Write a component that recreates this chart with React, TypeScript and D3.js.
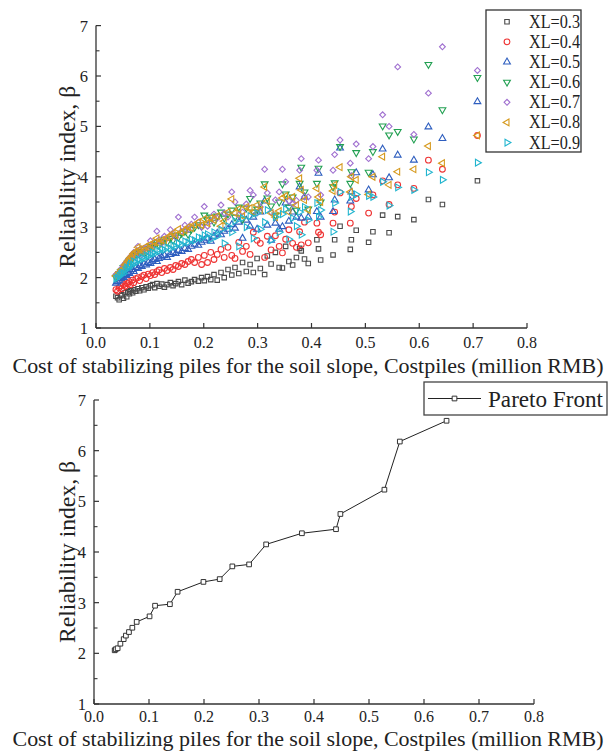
import React from "react";
import * as d3 from "d3";

// cost of piles (million RMB) for each design, shared by every XL series
const costs = [
  0.037, 0.040, 0.043, 0.046, 0.048, 0.051, 0.054, 0.057, 0.059, 0.062,
  0.064, 0.068, 0.070, 0.074, 0.078, 0.081, 0.085, 0.089, 0.093, 0.097,
  0.101, 0.105, 0.109, 0.113, 0.117, 0.122, 0.127, 0.132, 0.138, 0.143,
  0.148, 0.153, 0.159, 0.165, 0.171, 0.177, 0.183, 0.190, 0.196, 0.201,
  0.207, 0.213, 0.219, 0.225, 0.232, 0.238, 0.245, 0.252, 0.258, 0.265,
  0.272, 0.279, 0.286, 0.292, 0.299, 0.305, 0.313, 0.318, 0.325, 0.333,
  0.340, 0.346, 0.352, 0.358, 0.365, 0.372, 0.378, 0.381, 0.387, 0.394,
  0.410, 0.413, 0.417, 0.440, 0.443, 0.453, 0.472, 0.474, 0.483, 0.506,
  0.514, 0.532, 0.544, 0.560, 0.590, 0.617, 0.643, 0.708,
];

const betaXL03 = [
  1.63, 1.60, 1.56, 1.64, 1.66, 1.59, 1.70, 1.62, 1.72, 1.68,
  1.74, 1.70, 1.76, 1.73, 1.78, 1.74, 1.80, 1.76, 1.82, 1.79,
  1.84, 1.86, 1.80, 1.88, 1.83, 1.87, 1.81, 1.86, 1.90, 1.84,
  1.88, 1.92, 1.86, 1.95, 1.89, 1.92, 1.96, 1.93, 2.00, 1.94,
  2.02, 1.96, 2.06, 1.95, 2.10, 2.00, 2.16, 2.05, 2.20, 2.08,
  2.30, 2.12, 2.26, 2.10, 2.38, 2.18, 2.06, 2.43, 2.27, 2.50,
  2.20, 2.19, 2.62, 2.32, 2.25, 2.40, 2.58, 2.53, 2.37, 2.28,
  2.75, 2.57, 2.35, 2.45, 2.75, 3.02, 2.56, 2.75, 2.94, 2.70,
  2.91, 3.24, 2.89, 3.21, 3.15, 3.55, 3.45, 3.92,
];

const betaXL04 = [
  1.76, 1.73, 1.80, 1.84, 1.78, 1.86, 1.83, 1.90, 1.88, 1.92,
  1.86, 1.95, 1.90, 1.98, 2.00, 1.94, 2.02, 2.05, 1.98, 2.07,
  2.04, 2.10, 2.06, 2.12, 2.15, 2.10, 2.18, 2.14, 2.20, 2.16,
  2.24, 2.22, 2.28, 2.26, 2.32, 2.36, 2.30, 2.40, 2.26, 2.44,
  2.30, 2.50, 2.36, 2.46, 2.56, 2.40, 2.60, 2.44, 2.38, 2.70,
  2.52, 2.62, 2.46, 2.90, 2.74, 2.68, 2.40, 2.82, 2.55, 2.83,
  2.62, 2.49, 2.76, 2.95, 2.68, 2.60, 2.91, 2.65, 3.10, 2.69,
  3.08, 2.90, 2.85, 3.08, 3.30, 3.68, 3.08, 3.41, 3.57, 3.28,
  3.64, 3.92, 3.45, 3.84, 3.77, 4.33, 4.15, 4.82,
];

const betaXL05 = [
  1.89, 1.92, 1.95, 1.98, 2.02, 2.00, 2.06, 2.04, 2.10, 2.08,
  2.13, 2.16, 2.12, 2.20, 2.18, 2.24, 2.22, 2.27, 2.25, 2.30,
  2.28, 2.33, 2.36, 2.32, 2.38, 2.41, 2.44, 2.40, 2.46, 2.50,
  2.48, 2.54, 2.52, 2.58, 2.56, 2.62, 2.66, 2.64, 2.70, 2.74,
  2.78, 2.72, 2.82, 2.88, 2.85, 2.92, 2.96, 3.05, 2.98, 3.10,
  2.78, 3.14, 3.02, 3.20, 2.96, 3.30, 3.52, 3.04, 2.74, 3.08,
  2.96, 3.01, 3.48, 3.12, 3.30, 3.20, 3.80, 3.18, 3.60, 3.20,
  3.31, 4.07, 3.20, 3.31, 3.54, 4.57, 3.52, 3.70, 4.08, 3.74,
  4.04, 4.55, 3.98, 4.43, 4.33, 4.99, 4.76, 5.49,
];

const betaXL06 = [
  2.00, 2.03, 2.08, 2.12, 2.14, 2.20, 2.22, 2.26, 2.30, 2.34,
  2.32, 2.40, 2.44, 2.46, 2.50, 2.48, 2.52, 2.56, 2.50, 2.58,
  2.62, 2.60, 2.66, 2.70, 2.64, 2.72, 2.76, 2.70, 2.78, 2.74,
  2.84, 2.80, 2.88, 2.92, 2.86, 2.96, 3.00, 3.05, 3.02, 3.24,
  3.15, 3.20, 3.10, 3.22, 3.30, 3.18, 3.26, 3.34, 3.20, 3.40,
  3.16, 3.38, 3.57, 3.30, 3.36, 3.48, 3.86, 3.58, 3.42, 3.24,
  3.50, 3.86, 3.66, 3.40, 3.60, 3.34, 3.87, 4.19, 3.70, 3.36,
  3.87, 4.17, 3.50, 3.80, 3.88, 4.60, 3.87, 4.10, 4.48, 4.09,
  4.50, 5.01, 4.83, 4.90, 4.75, 6.23, 5.33, 5.97,
];

const betaXL07 = [
  2.06, 2.08, 2.10, 2.15, 2.19, 2.24, 2.28, 2.30, 2.35, 2.38,
  2.42, 2.46, 2.50, 2.42, 2.62, 2.55, 2.45, 2.58, 2.60, 2.52,
  2.73, 2.64, 2.70, 2.92, 2.75, 2.68, 2.82, 2.78, 2.95, 2.86,
  2.80, 3.20, 2.92, 3.04, 2.96, 3.06, 3.20, 3.10, 3.00, 3.41,
  3.02, 3.12, 3.26, 3.18, 3.44, 3.28, 3.20, 3.70, 3.50, 3.24,
  3.30, 3.46, 3.73, 3.64, 3.28, 3.40, 4.15, 3.68, 3.30, 3.54,
  3.70, 4.15, 3.90, 3.52, 3.46, 3.53, 4.13, 4.36, 3.60, 3.60,
  4.13, 4.33, 3.64, 4.13, 4.44, 4.73, 4.27, 4.02, 4.65, 4.36,
  4.60, 5.23, 5.00, 6.18, 4.84, 5.66, 6.58, 6.11,
];

const betaXL08 = [
  2.03, 2.05, 2.10, 2.12, 2.16, 2.18, 2.25, 2.28, 2.32, 2.36,
  2.40, 2.44, 2.48, 2.52, 2.60, 2.56, 2.50, 2.54, 2.62, 2.58,
  2.66, 2.62, 2.70, 2.78, 2.68, 2.74, 2.72, 2.80, 2.82, 2.88,
  2.84, 2.96, 2.90, 2.94, 3.00, 2.98, 3.05, 3.10, 3.04, 3.16,
  3.08, 3.18, 3.14, 3.22, 3.02, 3.12, 3.30, 3.56, 3.28, 3.36,
  3.22, 3.40, 3.38, 3.30, 3.44, 3.34, 3.80, 3.52, 3.28, 3.20,
  3.32, 3.58, 3.62, 3.30, 3.60, 3.44, 3.97, 3.74, 3.54, 3.34,
  3.77, 3.60, 3.50, 3.72, 3.84, 4.19, 3.70, 4.00, 3.94, 3.65,
  4.00, 4.40, 3.84, 4.10, 4.15, 4.61, 4.27, 4.82,
];

const betaXL09 = [
  1.98, 2.00, 2.04, 2.07, 2.10, 2.08, 2.15, 2.20, 2.18, 2.24,
  2.28, 2.25, 2.32, 2.30, 2.36, 2.34, 2.40, 2.38, 2.44, 2.42,
  2.46, 2.50, 2.48, 2.54, 2.52, 2.57, 2.55, 2.60, 2.58, 2.64,
  2.62, 2.68, 2.66, 2.72, 2.70, 2.76, 2.74, 2.80, 2.78, 2.84,
  2.86, 2.76, 2.90, 2.82, 2.95, 2.68, 3.02, 2.90, 3.12, 2.62,
  3.18, 3.00, 3.22, 2.78, 3.28, 2.96, 3.10, 3.34, 2.74, 3.20,
  2.90, 3.26, 3.36, 2.76, 3.18, 3.02, 3.30, 2.85, 3.40, 3.14,
  3.48, 3.20, 3.34, 2.91, 3.48, 3.70, 3.31, 3.60, 3.65, 3.62,
  3.60, 3.90, 3.43, 3.79, 3.74, 4.09, 3.94, 4.28,
];

const seriesLabels = ["XL=0.3", "XL=0.4", "XL=0.5", "XL=0.6", "XL=0.7", "XL=0.8", "XL=0.9"];

const paretoCost = [
  0.0376, 0.0395, 0.043, 0.048, 0.054, 0.058, 0.0636, 0.0697, 0.0776, 0.101,
  0.111, 0.138, 0.152, 0.199, 0.2285, 0.2515, 0.282, 0.313, 0.378, 0.44,
  0.448, 0.528, 0.556, 0.641,
];
const paretoBeta = [
  2.06, 2.08, 2.10, 2.19, 2.28, 2.35, 2.42, 2.505, 2.62, 2.73,
  2.94, 2.97, 3.215, 3.41, 3.465, 3.716, 3.755, 4.15, 4.37, 4.45,
  4.75, 5.23, 6.18, 6.59,
];

const xTicks = [0, 0.1, 0.2, 0.3, 0.4, 0.5, 0.6, 0.7, 0.8];
const yTicks = [1, 2, 3, 4, 5, 6, 7];
const yMinorTicks = [1.5, 2.5, 3.5, 4.5, 5.5, 6.5];

const FONT = "'Liberation Serif', 'Times New Roman', serif";
const AXIS = "#333";
const xTitle = "Cost of stabilizing piles for the soil slope, Costpiles (million RMB)";
const yTitle = "Reliability index, β";

const colors = ["#4a4a4a", "#ee3333", "#2e5ebf", "#22a052", "#a070d0", "#d69a1e", "#22b5cf"];
const markers = [
  { type: d3.symbolSquare, size: 20, rotate: 0 },
  { type: d3.symbolCircle, size: 26, rotate: 0 },
  { type: d3.symbolTriangle, size: 20, rotate: 0 },
  { type: d3.symbolTriangle, size: 20, rotate: 180 },
  { type: d3.symbolSquare, size: 17, rotate: 45 },
  { type: d3.symbolTriangle, size: 20, rotate: -90 },
  { type: d3.symbolTriangle, size: 20, rotate: 90 },
];

const seriesBeta = [betaXL03, betaXL04, betaXL05, betaXL06, betaXL07, betaXL08, betaXL09];
const fmt = d3.format(".1f");

const Axes = ({ x, y, xTitleY, tickDy }) => {
  const [x0, x1] = x.range();
  const [yb, yt] = y.range();
  const cy = (yb + yt) / 2;
  return (
    <g fontFamily={FONT} fill="#222">
      <line x1={x0} x2={x1} y1={yb} y2={yb} stroke={AXIS} strokeWidth={1.3} />
      <line x1={x0} x2={x0} y1={yb} y2={yt} stroke={AXIS} strokeWidth={1.3} />
      {xTicks.map((t) => (
        <g key={`x${t}`}>
          <line x1={x(t)} x2={x(t)} y1={yb} y2={yb - 5} stroke={AXIS} strokeWidth={1.2} />
          <text x={x(t)} y={yb + tickDy} fontSize={16} textAnchor="middle">{fmt(t)}</text>
        </g>
      ))}
      {yTicks.map((t) => (
        <g key={`y${t}`}>
          <line x1={x0} x2={x0 + 5} y1={y(t)} y2={y(t)} stroke={AXIS} strokeWidth={1.2} />
          <text x={x0 - 8} y={y(t) + 6} fontSize={16.5} textAnchor="end">{t}</text>
        </g>
      ))}
      {yMinorTicks.map((t) => (
        <line key={`m${t}`} x1={x0} x2={x0 + 3.5} y1={y(t)} y2={y(t)} stroke={AXIS} strokeWidth={1.1} />
      ))}
      <text x={308} y={xTitleY} fontSize={22} textAnchor="middle" textLength={591} lengthAdjust="spacingAndGlyphs">
        {xTitle}
      </text>
      <text transform={`translate(75,${cy}) rotate(-90)`} fontSize={23} textAnchor="middle" textLength={182} lengthAdjust="spacingAndGlyphs">
        {yTitle}
      </text>
    </g>
  );
};

const symbolPath = (i) => d3.symbol().type(markers[i].type).size(markers[i].size)();

const ScatterChart = () => {
  const x = d3.scaleLinear().domain([0, 0.8]).range([96, 527]);
  const y = d3.scaleLinear().domain([1, 7]).range([328, 25.6]);
  return (
    <g>
      <Axes x={x} y={y} xTitleY={373} tickDy={20} />
      {seriesBeta.map((vals, s) => {
        const d = symbolPath(s);
        return (
          <g key={`s${s}`}>
            {vals.map((v, i) => (
              <path
                key={i}
                d={d}
                transform={`translate(${x(costs[i])},${y(v)}) rotate(${markers[s].rotate})`}
                fill="none"
                stroke={colors[s]}
                strokeWidth={1.1}
              />
            ))}
          </g>
        );
      })}
      <g>
        <rect x={486} y={10} width={95} height={142} fill="white" stroke="#333" strokeWidth={1.3} />
        {seriesLabels.map((lab, s) => {
          const cy = 21.7 + s * 20.15;
          return (
            <g key={lab}>
              <path d={symbolPath(s)} transform={`translate(507,${cy}) rotate(${markers[s].rotate})`} fill="none" stroke={colors[s]} strokeWidth={1.1} />
              <text x={529} y={cy + 6} fontFamily={FONT} fontSize={18} fill="#222" textLength={51} lengthAdjust="spacingAndGlyphs">{lab}</text>
            </g>
          );
        })}
      </g>
    </g>
  );
};

const ParetoChart = () => {
  const x = d3.scaleLinear().domain([0, 0.8]).range([94, 534]);
  const y = d3.scaleLinear().domain([1, 7]).range([704, 400]);
  const pts = paretoCost.map((c, i) => [c, paretoBeta[i]]);
  const line = d3.line().x((d) => x(d[0])).y((d) => y(d[1]));
  const sq = d3.symbol().type(d3.symbolSquare).size(22)();
  return (
    <g>
      <Axes x={x} y={y} xTitleY={746} tickDy={18} />
      <path d={line(pts)} fill="none" stroke="#222" strokeWidth={1} />
      {pts.map((p, i) => (
        <path key={i} d={sq} transform={`translate(${x(p[0])},${y(p[1])})`} fill="white" stroke="#333" strokeWidth={1} />
      ))}
      <g>
        <rect x={424} y={382} width={183} height={33} fill="white" stroke="#444" strokeWidth={1.3} />
        <line x1={428} x2={481} y1={398.5} y2={398.5} stroke="#222" strokeWidth={1} />
        <path d={sq} transform="translate(454.5,398.5)" fill="white" stroke="#333" strokeWidth={1} />
        <text x={488} y={407} fontFamily={FONT} fontSize={23} fill="#222" textLength={115} lengthAdjust="spacingAndGlyphs">Pareto Front</text>
      </g>
    </g>
  );
};

export default function App() {
  return (
    <svg width={615} height={753} style={{ position: "absolute", left: 0, top: 0, background: "white" }}>
      <ScatterChart />
      <ParetoChart />
    </svg>
  );
}
